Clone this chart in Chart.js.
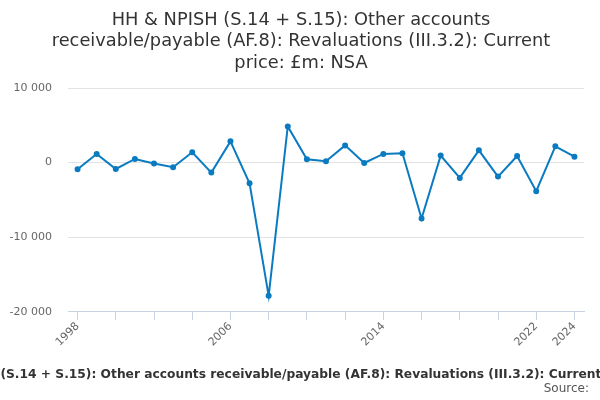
<!DOCTYPE html>
<html>
<head>
<meta charset="utf-8">
<script src="https://cdn.jsdelivr.net/npm/chart.js@4"></script>
<style>
  html, body { margin: 0; padding: 0; background: #fff; }
  #wrap { width: 600px; height: 400px; }
</style>
</head>
<body>
<div id="wrap"><canvas id="revalChart"></canvas></div>
<script>
// Data
const years = ['1998','1999','2000','2001','2002','2003','2004','2005','2006','2007','2008','2009','2010','2011',
               '2012','2013','2014','2015','2016','2017','2018','2019','2020','2021','2022','2023','2024'];
const values = [-890, 1160, -850, 490, -130, -620, 1380, -1340, 2850, -2760, -17850, 4850, 450, 180,
                2310, -50, 1160, 1250, -7480, 940, -2050, 1650, -1870, 890, -3830, 2180, 800];
const labelledYears = ['1998', '2006', '2014', '2022', '2024'];
const yTicks = [-20000, -10000, 0, 10000];

const titleText = 'HH & NPISH (S.14 + S.15): Other accounts receivable/payable (AF.8): Revaluations (III.3.2): Current price: £m: NSA';
const titleLines = ['HH & NPISH (S.14 + S.15): Other accounts', 'receivable/payable (AF.8): Revaluations (III.3.2): Current', 'price: £m: NSA'];
const sourceText = 'Source:';

Chart.defaults.font.family = '"DejaVu Sans", sans-serif';
Chart.defaults.color = '#666';

function fmt(v) {
    // space as thousands separator, like the reference
    const s = Math.abs(v).toString().replace(/\B(?=(\d{3})+(?!\d))/g, ' ');
    return (v < 0 ? '-' : '') + s;
}

// Title and footer drawn by hand: the title must sit centred on the whole canvas,
// and the axis title is wider than the canvas (chart.js would squeeze it)
const textPlugin = {
    id: 'pageText',
    afterDraw(chart) {
        const ctx = chart.ctx;
        const mid = chart.width / 2;
        ctx.save();
        ctx.textBaseline = 'alphabetic';
        ctx.textAlign = 'center';
        ctx.fillStyle = '#333';
        ctx.font = '17.8px "DejaVu Sans", sans-serif';
        titleLines.forEach((line, i) => ctx.fillText(line, mid + 1, 24.5 + i * 21.7));

        ctx.font = 'bold 12.25px "DejaVu Sans", sans-serif';
        ctx.fillText(titleText, mid + 11, 378);

        ctx.font = '12px "DejaVu Sans", sans-serif';
        ctx.fillStyle = '#555';
        ctx.textAlign = 'right';
        ctx.fillText(sourceText, chart.width - 11, 392);
        ctx.restore();
    }
};

new Chart(document.getElementById('revalChart'), {
    type: 'line',
    data: {
        labels: years,
        datasets: [{
            data: values,
            borderColor: '#0b7bc1',
            backgroundColor: '#0b7bc1',
            borderWidth: 2,
            pointRadius: 2,
            pointHoverRadius: 3,
            tension: 0
        }]
    },
    options: {
        responsive: true,
        maintainAspectRatio: false,
        animation: false,
        layout: { padding: { left: 0, right: 16, top: 88, bottom: 51 } },
        plugins: {
            legend: { display: false },
            tooltip: { enabled: false }
        },
        scales: {
            x: {
                offset: true,
                grid: {
                    offset: false,
                    drawOnChartArea: false,
                    drawTicks: true,
                    tickLength: 8,
                    color: '#c8d2e2'
                },
                border: { color: '#c8d2e2' },
                ticks: {
                    autoSkip: false,
                    maxRotation: 45,
                    minRotation: 45,
                    font: { size: 11 },
                    color: '#666',
                    padding: 0,
                    callback: function(value, index) {
                        const y = years[index];
                        if (Number(y) % 2 !== 0) return null;
                        return labelledYears.includes(y) ? y : '';
                    }
                }
            },
            y: {
                min: -20000,
                max: 10000,
                afterBuildTicks: function(axis) {
                    axis.ticks = yTicks.map(v => ({ value: v }));
                },
                afterFit: function(axis) {
                    axis.width = 68;
                },
                grid: {
                    color: '#e2e2e2',
                    drawTicks: false
                },
                border: { display: false },
                ticks: {
                    font: { size: 11 },
                    color: '#666',
                    padding: 16,
                    callback: v => fmt(v)
                }
            }
        }
    },
    plugins: [textPlugin]
});
</script>
</body>
</html>
